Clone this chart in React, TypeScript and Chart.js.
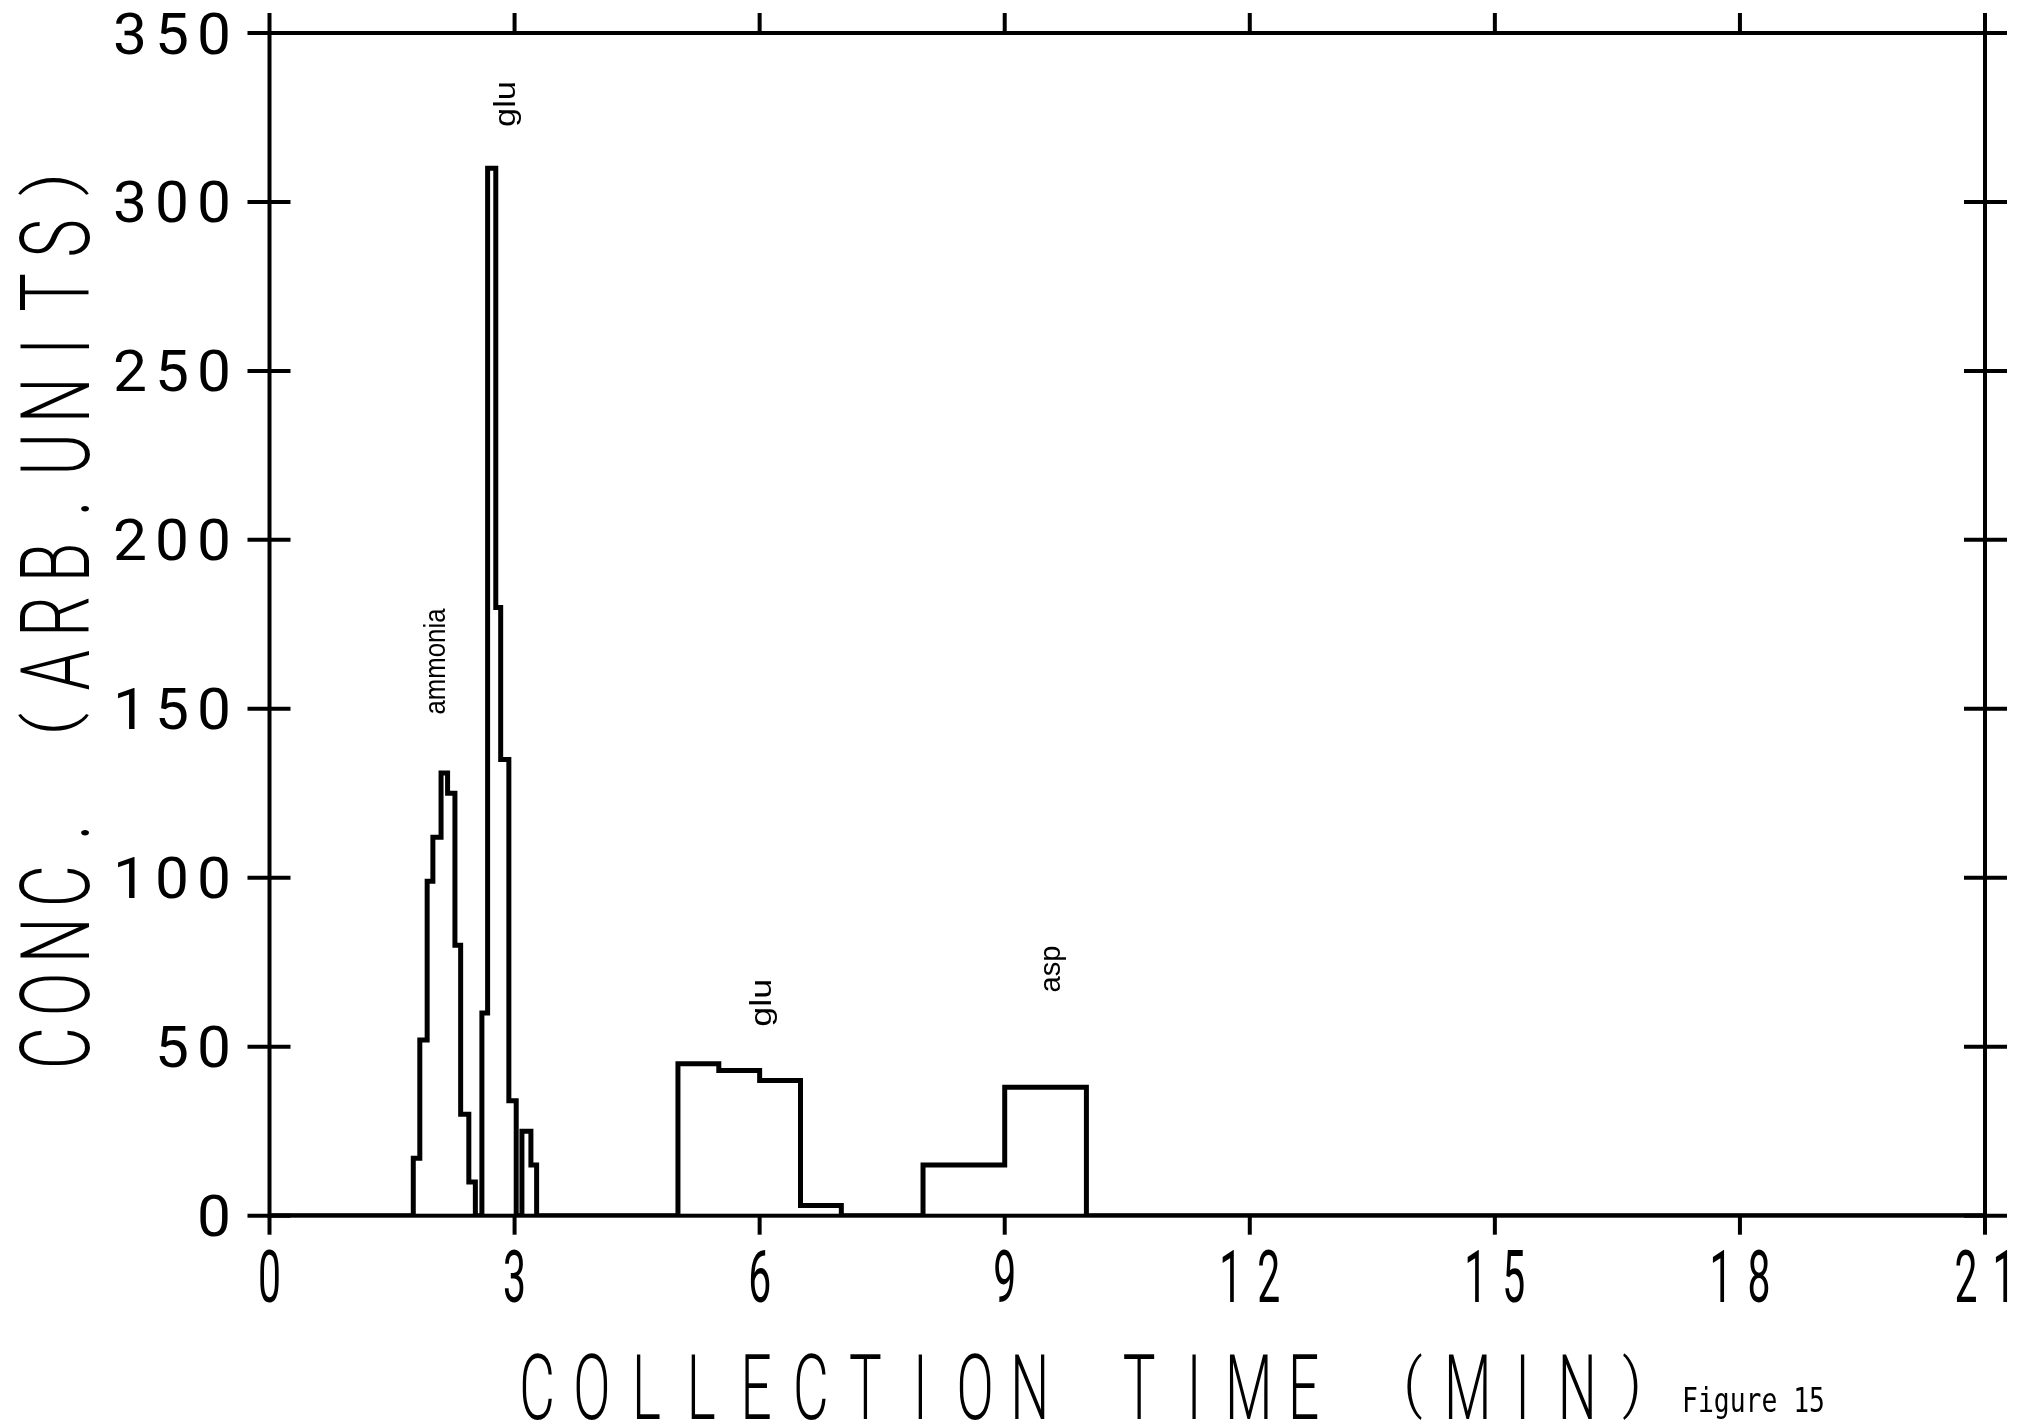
import React, { useEffect, useRef } from "react";
import { Chart, registerables } from "chart.js";

Chart.register(...registerables);

// ---- axis ticks ----
const X_TICKS = [0, 3, 6, 9, 12, 15, 18, 21];
const Y_TICKS = [0, 50, 100, 150, 200, 250, 300, 350];
const X_TITLE = "COLLECTION TIME (MIN)";
const Y_TITLE = "CONC. (ARB.UNITS)";
const FIG_LABEL = "Figure 15";

// ---- fractions: bin edges (min) and concentrations per bin ----
const ammoniaEdges = [1.76, 1.84, 1.93, 2.0, 2.1, 2.18, 2.27, 2.34, 2.44, 2.52];
const ammoniaValues = [17, 52, 99, 112, 131, 125, 80, 30, 10];
const gluEdges = [2.6, 2.67, 2.77, 2.83, 2.93, 3.02];
const gluValues = [60, 310, 180, 135, 34];
const gluTailEdges = [3.09, 3.2, 3.27];
const gluTailValues = [25, 15];
const glu2Edges = [5.0, 5.5, 6.0, 6.5, 7.0];
const glu2Values = [45, 43, 40, 3];
const aspEdges = [8.0, 9.0, 10.0];
const aspValues = [15, 38];

// ---- peak labels (data coordinates) ----
const peakLabels = ["ammonia", "glu", "glu", "asp"];
const peakLabelX = [2.05, 2.91, 6.04, 9.58];
const peakLabelY = [164, 329, 63, 73];
const peakLabelLen = [106, 46, 48, 47];

function buildSteps() {
  const pts: { x: number; y: number }[] = [{ x: 0, y: 0 }];
  const groups: [number[], number[]][] = [
    [ammoniaEdges, ammoniaValues],
    [gluEdges, gluValues],
    [gluTailEdges, gluTailValues],
    [glu2Edges, glu2Values],
    [aspEdges, aspValues],
  ];
  for (const [e, v] of groups) {
    for (let i = 0; i < v.length; i++) pts.push({ x: e[i], y: v[i] });
    pts.push({ x: e[e.length - 1], y: 0 });
  }
  pts.push({ x: 21, y: 0 });
  return pts;
}

const PLOT_FONT = "Roboto, 'DejaVu Sans', sans-serif";
const CAP_RATIO = 0.711;

function plotterText(
  ctx: CanvasRenderingContext2D,
  text: string,
  cx: number,
  cy: number,
  advance: number,
  cap: number,
  glyphW: number,
  refChar: string,
  rot: number,
  weight: string
) {
  const size = cap / CAP_RATIO;
  ctx.save();
  ctx.font = `${weight} ${size}px ${PLOT_FONT}`;
  const wRef = ctx.measureText(refChar).width;
  const sx = glyphW / wRef;
  ctx.translate(cx, cy);
  ctx.rotate(rot);
  ctx.textAlign = "center";
  ctx.textBaseline = "alphabetic";
  const n = text.length;
  for (let i = 0; i < n; i++) {
    const ch = text[i];
    if (ch === " ") continue;
    ctx.save();
    ctx.translate((i - (n - 1) / 2) * advance, 0);
    if (ch === "(" || ch === ")") {
      const m = ctx.measureText(ch);
      const asc = m.actualBoundingBoxAscent;
      const desc = m.actualBoundingBoxDescent;
      const sy = (cap * 1.02) / (asc + desc);
      ctx.scale(sx * 1.1, sy);
      ctx.fillText(ch, 0, (asc - desc) / 2);
    } else {
      ctx.scale(sx, 1);
      ctx.fillText(ch, 0, cap / 2);
    }
    ctx.restore();
  }
  ctx.restore();
}

function fittedText(
  ctx: CanvasRenderingContext2D,
  text: string,
  cx: number,
  cy: number,
  font: string,
  length: number,
  rot: number
) {
  ctx.save();
  ctx.font = font;
  const w = ctx.measureText(text).width;
  ctx.translate(cx, cy);
  ctx.rotate(rot);
  ctx.scale(length / w, 1);
  ctx.textAlign = "center";
  ctx.textBaseline = "middle";
  ctx.fillText(text, 0, 0);
  ctx.restore();
}

const framePlugin = {
  id: "plotterFrame",
  afterDraw(chart: any) {
    const ctx: CanvasRenderingContext2D = chart.ctx;
    const ca = chart.chartArea;
    const xs = chart.scales.x;
    const ys = chart.scales.y;
    ctx.save();
    ctx.strokeStyle = "#000";
    ctx.fillStyle = "#000";
    ctx.lineWidth = 4;
    ctx.lineCap = "butt";
    ctx.strokeRect(ca.left, ca.top, ca.right - ca.left, ca.bottom - ca.top);
    const line = (x1: number, y1: number, x2: number, y2: number) => {
      ctx.beginPath();
      ctx.moveTo(x1, y1);
      ctx.lineTo(x2, y2);
      ctx.stroke();
    };
    xs.ticks.forEach((t: any) => {
      const px = xs.getPixelForValue(t.value);
      line(px, ca.bottom, px, ca.bottom + 19);
      line(px, ca.top, px, ca.top - 20);
    });
    ys.ticks.forEach((t: any) => {
      const py = ys.getPixelForValue(t.value);
      line(ca.left - 22, py, ca.left + 21, py);
      line(ca.right - 21, py, ca.right + 22, py);
    });

    // tick labels
    xs.ticks.forEach((t: any) => {
      const px = xs.getPixelForValue(t.value);
      plotterText(ctx, String(t.value), px, ca.bottom + 61, 38, 51, 23, "0", 0, "400");
    });
    ys.ticks.forEach((t: any) => {
      const py = ys.getPixelForValue(t.value);
      const s = String(t.value);
      const adv = 42;
      const gw = 34;
      const extent = (s.length - 1) * adv + gw;
      const cx = ca.left - 38.5 - extent / 2;
      plotterText(ctx, s, cx, py, adv, 41, gw, "0", 0, "400");
    });

    // axis titles
    plotterText(ctx, X_TITLE, ca.left + 815, ca.bottom + 171, 54.75, 65, 39, "N", 0, "300");
    plotterText(ctx, Y_TITLE, 54, (ca.top + ca.bottom) / 2 - 8, 54, 69, 46, "N", -Math.PI / 2, "300");

    // peak labels
    for (let i = 0; i < peakLabels.length; i++) {
      const px = xs.getPixelForValue(peakLabelX[i]);
      const py = ys.getPixelForValue(peakLabelY[i]);
      fittedText(ctx, peakLabels[i], px, py, "30px 'Liberation Sans', Arial, sans-serif", peakLabelLen[i], -Math.PI / 2);
    }

    // figure caption
    ctx.font = "33px 'DejaVu Sans Mono', monospace";
    const w = ctx.measureText(FIG_LABEL).width;
    ctx.save();
    ctx.translate(1682, 1412);
    ctx.scale(143 / w, 1);
    ctx.textAlign = "left";
    ctx.textBaseline = "alphabetic";
    ctx.fillText(FIG_LABEL, 0, 0);
    ctx.restore();
    ctx.restore();
  },
};

export default function App() {
  const ref = useRef<HTMLCanvasElement | null>(null);
  useEffect(() => {
    document.body.style.margin = "0";
    document.body.style.overflow = "hidden";
    document.body.style.background = "#fff";
    const canvas = ref.current;
    if (!canvas) return;
    const chart = new Chart(canvas, {
      type: "line",
      data: {
        datasets: [
          {
            data: buildSteps(),
            stepped: true,
            borderColor: "#000",
            borderWidth: 5,
            pointRadius: 0,
            fill: false,
            tension: 0,
          } as any,
        ],
      },
      options: {
        animation: false,
        responsive: false,
        devicePixelRatio: 1,
        layout: { padding: { top: 33, right: 47, left: 0, bottom: 0 } },
        plugins: {
          legend: { display: false },
          tooltip: { enabled: false },
          title: { display: false },
        },
        scales: {
          x: {
            type: "linear",
            min: 0,
            max: 21,
            afterBuildTicks: (s: any) => {
              s.ticks = X_TICKS.map((v) => ({ value: v }));
            },
            ticks: { display: false },
            grid: { display: false },
            border: { display: false },
            afterFit: (s: any) => {
              s.height = 1423 - 1215.7;
            },
          },
          y: {
            type: "linear",
            min: 0,
            max: 350,
            afterBuildTicks: (s: any) => {
              s.ticks = Y_TICKS.map((v) => ({ value: v }));
            },
            ticks: { display: false },
            grid: { display: false },
            border: { display: false },
            afterFit: (s: any) => {
              s.width = 269.5;
            },
          },
        },
      } as any,
      plugins: [framePlugin],
    });
    return () => chart.destroy();
  }, []);
  return (
    <div style={{ width: 2032, height: 1423, background: "#fff" }}>
      <canvas ref={ref} width={2032} height={1423} style={{ display: "block" }} />
    </div>
  );
}
